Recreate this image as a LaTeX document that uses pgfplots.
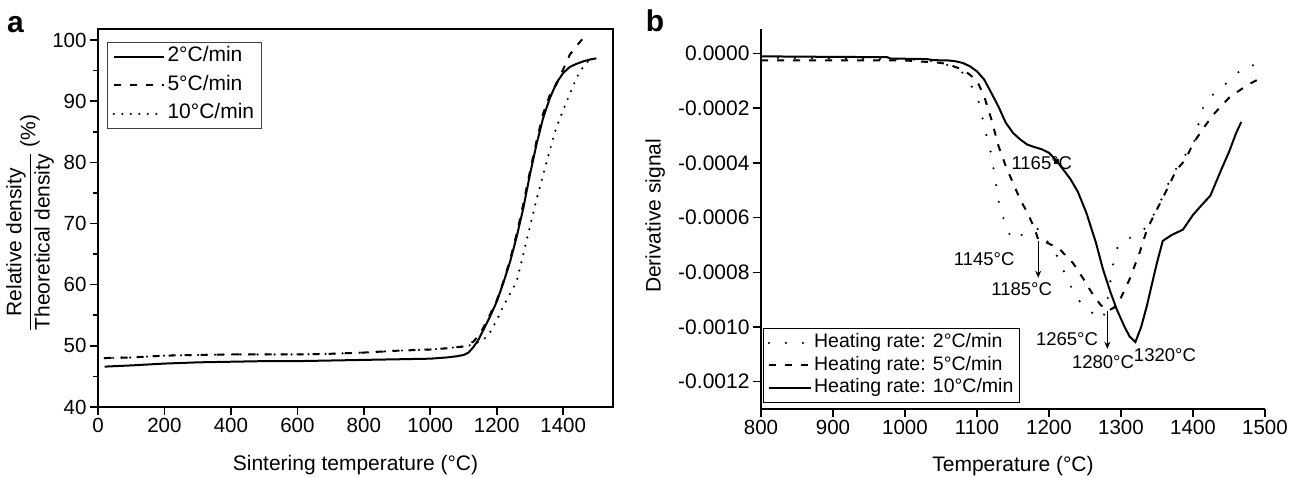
\documentclass[border=0pt]{standalone}
\usepackage{fontspec}
\setmainfont{Liberation Sans}
\usepackage{pgfplots}
\pgfplotsset{compat=1.18}
\usetikzlibrary{arrows.meta}

\pgfplotsset{
  mybase/.style={
    scale only axis,
    font=\fontsize{21}{24}\selectfont,
    tick label style={font=\fontsize{20.5}{24}\selectfont},
    label style={font=\fontsize{21}{24}\selectfont},
    /pgf/number format/assume math mode=true,
    /pgf/number format/1000 sep={},
    tick align=outside,
    major tick length=8pt,
    minor tick length=4.5pt,
    every tick/.style={black, line width=1.6pt},
    axis line style={line width=2pt, black},
    clip=false,
  },
  soliddata/.style={black, line width=2pt},
  dasheddata/.style={black, line width=2pt, dash pattern={on 7pt off 9pt}},
  dottedA/.style={black, line width=2.4pt, line cap=round, dash pattern={on 0pt off 8.5pt}},
  dottedB/.style={black, line width=2.4pt, line cap=round, dash pattern={on 0pt off 17pt}},
}

\begin{document}
\begin{tikzpicture}[x=1pt,y=1pt]

% ---------------- panel a ----------------
\begin{axis}[mybase,
  at={(98pt,70pt)}, anchor=south west,
  width=515pt, height=378pt,
  xmin=0, xmax=1550, ymin=40, ymax=101.8,
  xtick={0,200,400,600,800,1000,1200,1400},
  ytick={40,50,60,70,80,90,100},
  minor y tick num=1,
  xtick pos=bottom, ytick pos=left,
  xlabel={Sintering temperature (°C)},
  every axis x label/.style={at={(axis description cs:0.5,-0.153)}, anchor=center},
  ylabel={$\displaystyle\frac{\mbox{Relative density}}{\mbox{Theoretical density}}$ (\%)},
  every axis y label/.style={at={(axis description cs:-0.132,0.487)}, anchor=center, rotate=90},
  legend style={at={(axis description cs:0.0175,0.966)}, anchor=north west,
    draw=black!75, line width=1.2pt, font=\fontsize{21}{24}\selectfont,
    inner xsep=5pt, inner ysep=2pt, row sep=3.5pt,
    nodes={inner sep=2.5pt, text height=15pt, text depth=5pt}},
  legend cell align=left,
  legend image code/.code={\draw[#1] (0pt,0pt) -- (50pt,0pt);},
]
\addplot[soliddata] table {
T D
20 46.6
100 46.8
200 47.1
300 47.3
400 47.4
500 47.5
600 47.5
700 47.6
800 47.7
900 47.8
1000 47.9
1050 48.1
1080 48.3
1100 48.5
1115 48.9
1130 49.8
1145 51.0
1160 52.6
1180 54.8
1200 57.2
1220 60.3
1240 63.7
1260 67.8
1280 72.5
1300 78.0
1320 83.0
1340 87.3
1360 90.5
1380 93.0
1400 94.6
1420 95.6
1440 96.1
1460 96.5
1480 96.8
1500 97.0
};
\addlegendentry{2°C/min}
\addplot[dasheddata] table {
T D
20 48.0
100 48.1
200 48.4
300 48.5
400 48.6
500 48.6
600 48.6
700 48.7
800 48.9
900 49.2
1000 49.4
1050 49.6
1100 49.9
1130 50.7
1150 52.0
1170 54.0
1200 57.4
1220 60.5
1240 64.0
1260 68.3
1280 73.2
1300 78.5
1320 83.5
1340 88.0
1360 91.0
1380 92.8
1400 95.2
1420 97.6
1440 99.0
1460 100.3
1475 100.9
};
\addlegendentry{5°C/min}
\addplot[dottedA] table {
T D
20 48.0
100 48.1
200 48.4
300 48.5
400 48.6
500 48.6
600 48.6
700 48.7
800 48.9
900 49.2
1000 49.4
1050 49.6
1100 49.9
1130 50.2
1160 51.0
1180 52.2
1200 54.2
1220 56.5
1240 58.5
1260 60.5
1280 65.0
1300 69.5
1320 74.0
1340 78.0
1360 82.0
1380 85.8
1400 88.5
1420 91.2
1440 93.8
1460 95.6
1475 96.5
1490 97.0
};
\addlegendentry{10°C/min}
\end{axis}

% ---------------- panel b ----------------
\begin{axis}[mybase,
  at={(761pt,68pt)}, anchor=south west,
  width=504pt, height=380pt,
  xmin=800, xmax=1500, ymin=-0.0013, ymax=0.00009,
  axis lines*=left,
  xtick={800,900,1000,1100,1200,1300,1400,1500},
  ytick={-0.0012,-0.001,-0.0008,-0.0006,-0.0004,-0.0002,0},
  scaled y ticks=false,
  yticklabel style={font=\fontsize{21}{24}\selectfont, /pgf/number format/.cd, fixed, fixed zerofill, precision=4},
  xlabel={Temperature (°C)},
  every axis x label/.style={at={(axis description cs:0.5,-0.15)}, anchor=center},
  ylabel={Derivative signal},
  every axis y label/.style={at={(axis description cs:-0.21,0.508)}, anchor=center, rotate=90},
  legend style={at={(axis description cs:0.004,0.016)}, anchor=south west,
    draw=black, line width=1.4pt, font=\fontsize{19.5}{23}\selectfont,
    inner xsep=4pt, inner ysep=3pt, row sep=0pt,
    nodes={inner sep=2pt, text height=14pt, text depth=4.5pt}},
  legend cell align=left,
  legend image code/.code={\draw[#1] (0pt,0pt) -- (42pt,0pt);},
]
\addplot[dottedB] table {
T V
800 -0.000015
900 -0.000018
1000 -0.00002
1050 -0.00003
1080 -0.00007
1100 -0.00015
1115 -0.00032
1120 -0.00037
1129 -0.00052
1132 -0.00057
1148 -0.00068
1165 -0.00066
1186 -0.00064
1211 -0.00074
1230 -0.00085
1240 -0.0009
1265 -0.00096
1275 -0.00097
1280 -0.00092
1289 -0.00077
1296 -0.0007
1315 -0.00067
1333 -0.00064
1350 -0.00057
1370 -0.00045
1386 -0.00038
1400 -0.00034
1412 -0.00021
1419 -0.00017
1450 -0.0001
1472 -0.000046
1493 -0.00004
};
\addlegendentry{Heating rate: 2°C/min}
\addplot[dasheddata] table {
T V
800 -0.000025
900 -0.000025
1000 -0.000025
1050 -0.000034
1060 -0.00004
1080 -0.000058
1090 -0.000077
1100 -0.0001
1110 -0.000156
1120 -0.000241
1130 -0.000339
1140 -0.000412
1150 -0.000473
1160 -0.000534
1170 -0.000582
1180 -0.00064
1185 -0.00068
1200 -0.000695
1215 -0.000716
1233 -0.000765
1248 -0.000825
1262 -0.000886
1272 -0.00092
1282 -0.00094
1290 -0.00093
1299 -0.000898
1312 -0.000825
1326 -0.000727
1336 -0.000644
1348 -0.00058
1359 -0.000523
1377 -0.000425
1389 -0.00039
1400 -0.00033
1414 -0.000274
1430 -0.000218
1451 -0.000159
1475 -0.000116
1490 -0.000095
};
\addlegendentry{Heating rate: 5°C/min}
\addplot[soliddata] table {
T V
800 -0.00001
900 -0.000012
975 -0.000013
980 -0.000018
1030 -0.00002
1040 -0.000024
1060 -0.000025
1070 -0.000028
1080 -0.000034
1090 -0.000046
1100 -0.000065
1110 -0.000095
1120 -0.000144
1130 -0.000195
1140 -0.000253
1150 -0.00029
1160 -0.000314
1170 -0.000333
1180 -0.000342
1190 -0.00035
1200 -0.000363
1210 -0.00039
1220 -0.000425
1230 -0.00046
1240 -0.000505
1252 -0.000583
1265 -0.00069
1275 -0.000789
1285 -0.00087
1294 -0.000935
1305 -0.001
1312 -0.001035
1320 -0.001055
1328 -0.001
1336 -0.000922
1345 -0.00082
1350 -0.000765
1358 -0.000685
1370 -0.000664
1386 -0.000644
1400 -0.00059
1410 -0.00056
1424 -0.00052
1432 -0.00047
1440 -0.00042
1450 -0.00036
1460 -0.00029
1467 -0.00025
};
\addlegendentry{Heating rate: 10°C/min}
\addplot[only marks, mark=square*, mark size=2pt, black, forget plot] coordinates {(1210,-0.000392)};
\node[font=\fontsize{18.5}{22}\selectfont] at (axis cs:1190,-0.0004) {1165°C};
\node[font=\fontsize{18.5}{22}\selectfont] at (axis cs:1110,-0.000751) {1145°C};
\node[font=\fontsize{18.5}{22}\selectfont] at (axis cs:1162,-0.00086) {1185°C};
\node[font=\fontsize{18.5}{22}\selectfont] at (axis cs:1225,-0.001044) {1265°C};
\node[font=\fontsize{18.5}{22}\selectfont] at (axis cs:1275,-0.00113) {1280°C};
\node[font=\fontsize{18.5}{22}\selectfont] at (axis cs:1361,-0.001104) {1320°C};
\draw[black, line width=1.3pt, -{Stealth[length=7pt,width=6pt]}] (axis cs:1185,-0.000686) -- (axis cs:1185,-0.00082);
\draw[black, line width=1.3pt, -{Stealth[length=7pt,width=6pt]}] (axis cs:1281,-0.00094) -- (axis cs:1281,-0.00108);
\end{axis}

\node[font=\fontsize{30}{32}\selectfont\bfseries] at (15.5pt,452pt) {a};
\node[font=\fontsize{30}{32}\selectfont\bfseries] at (655pt,456pt) {b};

\pgfresetboundingbox
\path[use as bounding box] (0,0) rectangle (1299pt,477pt);
\end{tikzpicture}
\end{document}
